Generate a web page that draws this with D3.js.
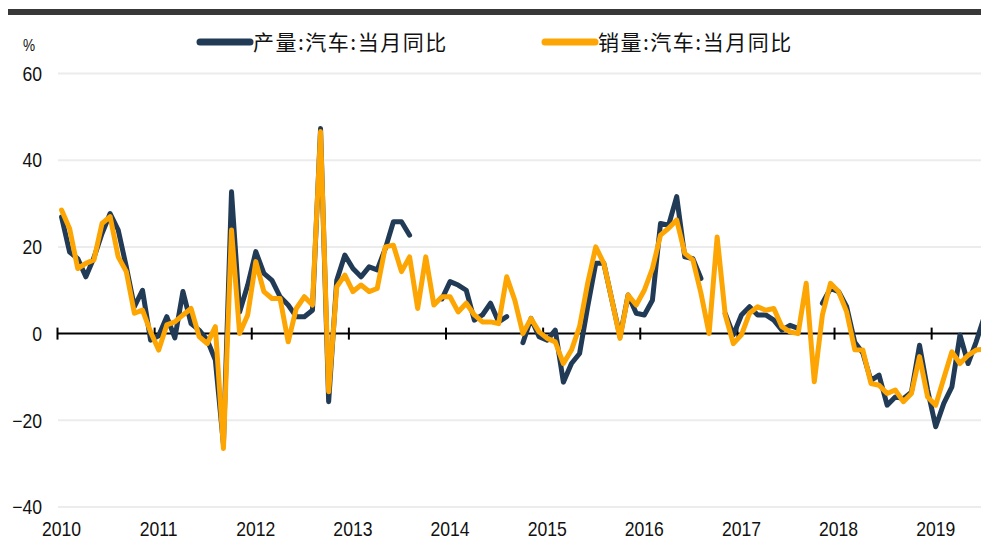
<!DOCTYPE html>
<html>
<head>
<meta charset="utf-8">
<script src="https://cdn.jsdelivr.net/npm/d3@7"></script>
<style>
  body { margin: 0; background: white; }
  text { font-family: "Liberation Sans", Arial, sans-serif; fill: #111; }
  .cjk { font-family: "Noto Sans CJK SC", sans-serif; }
</style>
</head>
<body>
<div class="chart"></div>
<script>
// monthly, 2010-01 .. 2019-07
var months = d3.timeMonth.range(new Date(2010, 0, 1), new Date(2019, 7, 1));

var production = [
  26.9, 18.8, 17.3, 13.1, 17.5, 23.1, 27.7, 23.9, 15.4, 6.2, 10.0, -1.5,
  -0.5, 3.9, -1.0, 9.7, 2.3, 0.8, -1.5, -6.1, -25.5, 32.7, 5.0, 11.2,
  18.9, 13.9, 12.3, 8.5, 6.6, 3.9, 3.9, 5.4, 47.3, -15.7, 12.3, 18.1,
  15.0, 13.1, 15.4, 14.7, 19.6, 25.8, 25.8, 22.7, null, null, null, 8.0,
  12.0, 11.2, 10.0, 3.1, 4.3, 7.0, 2.7, 3.9, null, -2.1, 3.5, -0.7,
  -1.5, 0.8, -11.2, -6.9, -4.6, 6.2, 16.2, 16.2, 7.7, -0.7, 8.9, 4.7,
  4.3, 7.7, 25.4, 25.0, 31.6, 17.7, 17.3, 12.7, null, null, 4.6, -0.3,
  4.3, 6.2, 4.3, 4.3, 3.1, 0.8, 1.9, 1.2, null, null, 7.0, 10.4,
  9.7, 6.2, -2.0, -4.5, -10.8, -9.6, -16.5, -14.6, -15.0, -13.5, -2.7, -13.0,
  -21.5, -16.1, -12.3, -0.3, -6.9, -1.9, 3.9
];

var sales = [
  28.5, 24.2, 15.0, 16.2, 17.0, 25.4, 27.0, 17.7, 14.3, 4.7, 5.4, 0.4,
  -3.8, 2.0, 2.7, 4.3, 5.8, -0.7, -2.3, 1.6, -26.5, 23.9, 0.0, 4.3,
  16.6, 9.7, 8.1, 8.1, -1.9, 5.8, 8.5, 6.6, 46.6, -13.4, 10.8, 13.5,
  9.7, 11.2, 9.7, 10.4, 20.0, 20.4, 14.3, 17.7, 5.8, 17.7, 6.6, 8.5,
  8.5, 5.0, 7.0, 4.3, 2.7, 2.7, 2.3, 13.1, 7.7, 0.0, 3.5, 0.4,
  -1.1, -1.9, -6.9, -3.8, 1.6, 11.6, 20.0, 16.2, 7.7, -1.1, 8.9, 6.6,
  10.0, 15.0, 22.7, 24.3, 26.2, 18.5, 17.0, 9.3, 0.0, 22.3, 4.3, -2.3,
  -0.3, 4.7, 6.2, 5.4, 5.8, 1.6, 0.4, 0.0, 11.6, -11.1, 4.3, 11.6,
  9.7, 5.0, -3.7, -3.8, -11.5, -11.9, -13.8, -13.0, -15.7, -13.8, -5.3, -14.6,
  -16.5, -10.3, -4.2, -6.9, -5.0, -3.8, -3.6
];

var seriesNames = ['产量:汽车:当月同比', '销量:汽车:当月同比'];
var colors = ['#213a55', '#fca503'];
var yTicks = [-40, -20, 0, 20, 40, 60];

var W = 981, H = 540;

const svg = d3.select('.chart')
  .append('svg')
    .attr('width', W)
    .attr('height', H);

// months as bands: tick at band start, point in the middle
const x = d3.scaleBand()
  .domain(months)
  .range([57.5, 57.5 + months.length * 8.094]);
const mid = d => x(d) + x.bandwidth() / 2;

const y = d3.scaleLinear()
  .domain([-40, 60])
  .range([507, 73.5]);

// top rule
svg.append('rect')
  .attr('x', 8).attr('y', 9)
  .attr('width', W - 8).attr('height', 6)
  .attr('fill', '#383838');

// grid
svg.append('g')
  .selectAll('line')
  .data(yTicks.filter(v => v !== 0))
  .enter()
    .append('line')
    .attr('x1', 58).attr('x2', W)
    .attr('y1', d => y(d)).attr('y2', d => y(d))
    .attr('stroke', '#ececec')
    .attr('stroke-width', 2);

// y labels (narrowed a bit, the original face is condensed)
svg.append('g')
  .selectAll('text')
  .data(yTicks)
  .enter()
    .append('text')
    .attr('transform', d => 'translate(42,' + y(d) + ') scale(0.88,1)')
    .attr('dy', '0.36em')
    .attr('text-anchor', 'end')
    .style('font-size', '20px')
    .text(d => d3.format('d')(d).replace('-', '−'));

svg.append('text')
  .attr('transform', 'translate(29,51) scale(0.85,1)')
  .attr('text-anchor', 'middle')
  .style('font-size', '16px')
  .text('%');

// zero line with year ticks
var years = months.filter(d => d.getMonth() === 0);

svg.append('line')
  .attr('x1', 58).attr('x2', W)
  .attr('y1', y(0)).attr('y2', y(0))
  .attr('stroke', '#000')
  .attr('stroke-width', 2);

svg.append('g')
  .selectAll('line')
  .data(years)
  .enter()
    .append('line')
    .attr('x1', d => x(d)).attr('x2', d => x(d))
    .attr('y1', y(0) - 6).attr('y2', y(0) + 6)
    .attr('stroke', '#000')
    .attr('stroke-width', 2);

svg.append('g')
  .selectAll('text')
  .data(years)
  .enter()
    .append('text')
    .attr('transform', d => 'translate(' + mid(d) + ',536) scale(0.88,1)')
    .attr('text-anchor', 'middle')
    .style('font-size', '20px')
    .text(d => d.getFullYear());

// lines
const line = d3.line()
  .defined(d => d.v !== null)
  .x(d => mid(d.m))
  .y(d => y(d.v));

[production, sales].forEach((vals, k) => {
  svg.append('path')
    .datum(months.map((m, i) => ({ m: m, v: vals[i] })))
    .attr('d', line)
    .attr('fill', 'none')
    .attr('stroke', colors[k])
    .attr('stroke-width', 5)
    .attr('stroke-linejoin', 'round')
    .attr('stroke-linecap', 'round');
});

// legend
var legendX = [198, 543];
const legend = svg.append('g')
  .selectAll('g')
  .data(seriesNames)
  .enter()
    .append('g')
    .attr('transform', (d, i) => 'translate(' + legendX[i] + ', 42)');

legend.append('line')
  .attr('x1', 2).attr('x2', 52)
  .attr('stroke', (d, i) => colors[i])
  .attr('stroke-width', 7)
  .attr('stroke-linecap', 'round');

legend.append('text')
  .attr('class', 'cjk')
  .attr('x', 55)
  .attr('dy', '0.36em')
  .style('font-size', '21px')
  .style('letter-spacing', '1.5px')
  .text(d => d);
</script>
</body>
</html>
